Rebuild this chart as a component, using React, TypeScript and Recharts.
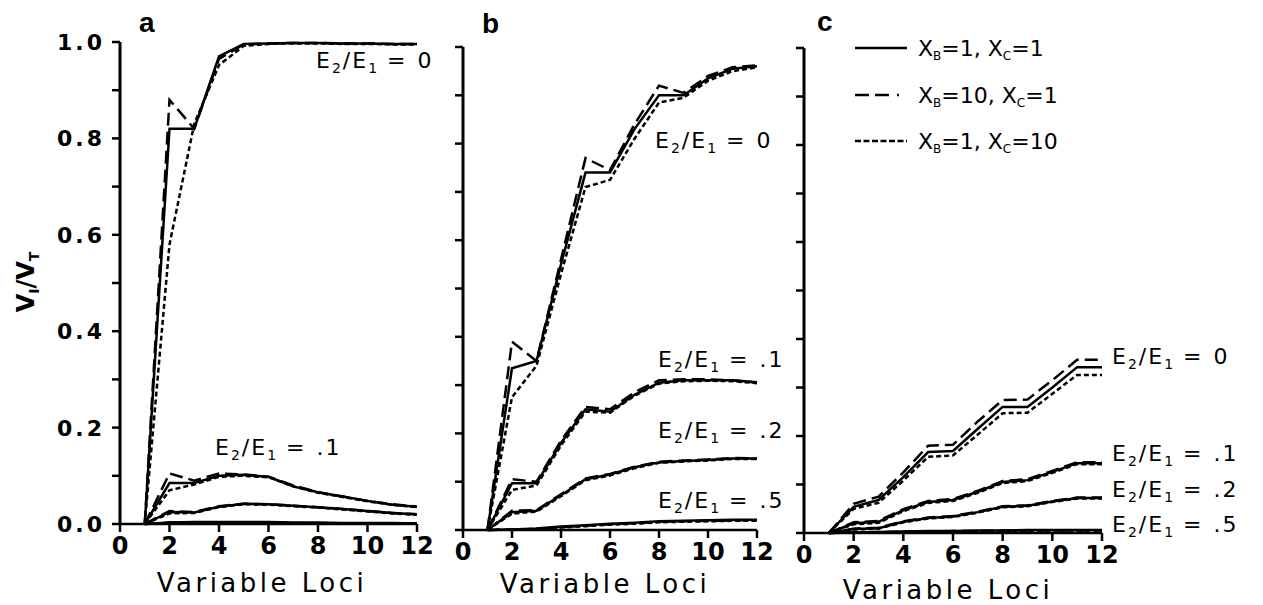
import React from 'react';
import { LineChart, Line, XAxis, YAxis } from 'recharts';

// ---------- data ----------
const loci = [1, 2, 3, 4, 5, 6, 7, 8, 9, 10, 11, 12];
const xTicks = [0, 2, 4, 6, 8, 10, 12];
const yTicks = [0, 0.1, 0.2, 0.3, 0.4, 0.5, 0.6, 0.7, 0.8, 0.9, 1.0];

// panel a
const aE0Solid = [0, 0.82, 0.82, 0.97, 0.996, 0.997, 0.998, 0.998, 0.997, 0.997, 0.996, 0.996];
const aE0Long = [0, 0.88, 0.82, 0.965, 0.995, 0.997, 0.998, 0.998, 0.997, 0.997, 0.996, 0.996];
const aE0Short = [0, 0.58, 0.83, 0.952, 0.992, 0.996, 0.997, 0.997, 0.996, 0.996, 0.995, 0.995];
const aE1Solid = [0, 0.085, 0.085, 0.1, 0.102, 0.098, 0.078, 0.066, 0.057, 0.048, 0.04, 0.036];
const aE1Long = [0, 0.105, 0.09, 0.105, 0.103, 0.098, 0.08, 0.066, 0.057, 0.048, 0.041, 0.036];
const aE1Short = [0, 0.07, 0.082, 0.098, 0.1, 0.097, 0.078, 0.065, 0.056, 0.047, 0.04, 0.035];
const aE2Solid = [0, 0.025, 0.024, 0.036, 0.042, 0.041, 0.038, 0.035, 0.031, 0.027, 0.023, 0.02];
const aE2Long = [0, 0.027, 0.025, 0.037, 0.042, 0.041, 0.038, 0.035, 0.031, 0.027, 0.023, 0.02];
const aE2Short = [0, 0.022, 0.023, 0.035, 0.041, 0.04, 0.037, 0.034, 0.03, 0.026, 0.022, 0.019];
const aE5Solid = [0, 0.003, 0.004, 0.004, 0.004, 0.004, 0.003, 0.003, 0.002, 0.002, 0.002, 0.001];
const aE5Long = [0, 0.003, 0.003, 0.003, 0.003, 0.002, 0.002, 0.001, 0.001, 0.001, 0.001, 0.001];
const aE5Short = [0, 0.002, 0.003, 0.003, 0.002, 0.002, 0.001, 0.001, 0.001, 0.001, 0.001, 0.001];

// panel b
const bE0Solid = [0, 0.335, 0.35, 0.55, 0.74, 0.74, 0.83, 0.9, 0.9, 0.935, 0.955, 0.96];
const bE0Long = [0, 0.39, 0.35, 0.56, 0.77, 0.745, 0.84, 0.92, 0.905, 0.94, 0.958, 0.962];
const bE0Short = [0, 0.275, 0.34, 0.53, 0.71, 0.725, 0.81, 0.885, 0.895, 0.93, 0.95, 0.958];
const bE1Solid = [0, 0.097, 0.097, 0.18, 0.25, 0.245, 0.28, 0.305, 0.31, 0.31, 0.31, 0.306];
const bE1Long = [0, 0.105, 0.1, 0.185, 0.255, 0.25, 0.285, 0.31, 0.312, 0.312, 0.31, 0.305];
const bE1Short = [0, 0.083, 0.092, 0.175, 0.245, 0.243, 0.278, 0.303, 0.308, 0.309, 0.308, 0.304];
const bE2Solid = [0, 0.037, 0.04, 0.072, 0.105, 0.115, 0.13, 0.14, 0.143, 0.145, 0.148, 0.148];
const bE2Long = [0, 0.04, 0.041, 0.074, 0.107, 0.116, 0.131, 0.141, 0.144, 0.146, 0.149, 0.148];
const bE2Short = [0, 0.034, 0.038, 0.07, 0.103, 0.113, 0.128, 0.139, 0.142, 0.144, 0.147, 0.147];
const bE5Solid = [0, 0.001, 0.003, 0.007, 0.01, 0.013, 0.015, 0.018, 0.019, 0.02, 0.021, 0.021];
const bE5Long = [0, 0.001, 0.002, 0.006, 0.009, 0.012, 0.014, 0.017, 0.018, 0.019, 0.02, 0.02];
const bE5Short = [0, 0.001, 0.002, 0.005, 0.008, 0.011, 0.013, 0.016, 0.017, 0.018, 0.019, 0.019];

// panel c
const cE0Solid = [0, 0.054, 0.068, 0.115, 0.167, 0.169, 0.215, 0.26, 0.26, 0.3, 0.342, 0.342];
const cE0Long = [0, 0.06, 0.075, 0.125, 0.18, 0.182, 0.23, 0.274, 0.275, 0.315, 0.357, 0.357];
const cE0Short = [0, 0.05, 0.062, 0.108, 0.157, 0.16, 0.203, 0.247, 0.248, 0.287, 0.326, 0.326];
const cE1Solid = [0, 0.02, 0.023, 0.047, 0.064, 0.068, 0.085, 0.105, 0.109, 0.126, 0.144, 0.144];
const cE1Long = [0, 0.022, 0.025, 0.049, 0.066, 0.07, 0.087, 0.107, 0.111, 0.128, 0.146, 0.146];
const cE1Short = [0, 0.018, 0.021, 0.045, 0.062, 0.066, 0.083, 0.103, 0.107, 0.124, 0.142, 0.142];
const cE2Solid = [0, 0.008, 0.01, 0.023, 0.031, 0.034, 0.043, 0.054, 0.056, 0.065, 0.072, 0.072];
const cE2Long = [0, 0.009, 0.011, 0.024, 0.032, 0.035, 0.044, 0.055, 0.057, 0.066, 0.073, 0.073];
const cE2Short = [0, 0.007, 0.009, 0.022, 0.03, 0.033, 0.042, 0.053, 0.055, 0.064, 0.071, 0.071];
const cE5Solid = [0, 0.001, 0.002, 0.003, 0.004, 0.004, 0.005, 0.005, 0.006, 0.006, 0.006, 0.006];
const cE5Long = [0, 0.001, 0.002, 0.003, 0.003, 0.004, 0.004, 0.005, 0.005, 0.005, 0.005, 0.005];
const cE5Short = [0, 0.001, 0.001, 0.002, 0.003, 0.003, 0.004, 0.004, 0.004, 0.005, 0.005, 0.005];

const legendLabels = [
  { b: '1', c: '1' },
  { b: '10', c: '1' },
  { b: '1', c: '10' },
];

// ---------- styling ----------
const W = 1263;
const H = 605;
const FONT = 'DejaVu Sans';
const DASH: Record<string, string | undefined> = { solid: undefined, long: '13 6', short: '5 3' };
const Y_AXIS_W = 60;
const X_AXIS_H = 36;

type Series = { key: string; values: number[]; style: 'solid' | 'long' | 'short' };

function makeSeries(groups: number[][][]): Series[] {
  const out: Series[] = [];
  groups.forEach((g, gi) => {
    out.push({ key: `g${gi}short`, values: g[2], style: 'short' });
    out.push({ key: `g${gi}long`, values: g[1], style: 'long' });
    out.push({ key: `g${gi}solid`, values: g[0], style: 'solid' });
  });
  return out;
}

const seriesA = makeSeries([
  [aE0Solid, aE0Long, aE0Short],
  [aE1Solid, aE1Long, aE1Short],
  [aE2Solid, aE2Long, aE2Short],
  [aE5Solid, aE5Long, aE5Short],
]);
const seriesB = makeSeries([
  [bE0Solid, bE0Long, bE0Short],
  [bE1Solid, bE1Long, bE1Short],
  [bE2Solid, bE2Long, bE2Short],
  [bE5Solid, bE5Long, bE5Short],
]);
const seriesC = makeSeries([
  [cE0Solid, cE0Long, cE0Short],
  [cE1Solid, cE1Long, cE1Short],
  [cE2Solid, cE2Long, cE2Short],
  [cE5Solid, cE5Long, cE5Short],
]);

function buildRows(series: Series[]) {
  return loci.map((x, i) => {
    const row: Record<string, number> = { x };
    series.forEach((s) => {
      row[s.key] = s.values[i];
    });
    return row;
  });
}

// y tick: short line to the left plus optional label
function YTick(props: any) {
  const { x, y, payload, showLabel } = props;
  const v = payload.value as number;
  const even = Math.round(v * 10) % 2 === 0;
  const ax = x + 15;
  return (
    <g>
      <line x1={ax - 8} x2={ax} y1={y} y2={y} stroke="#000" strokeWidth={2.5} />
      {showLabel && even ? (
        <text
          x={ax - 15}
          y={y + 8}
          textAnchor="end"
          fontFamily={FONT}
          fontWeight="bold"
          fontSize={22}
          letterSpacing={3}
          fill="#000"
        >
          {v.toFixed(1)}
        </text>
      ) : null}
    </g>
  );
}

type PanelProps = {
  series: Series[];
  left: number;
  right: number;
  top: number;
  bottom: number;
  showYLabels: boolean;
};

function Panel({ series, left, right, top, bottom, showYLabels }: PanelProps) {
  const rows = buildRows(series);
  return (
    <div style={{ position: 'absolute', left: 0, top: 0 }}>
      <LineChart
        width={W}
        height={H}
        data={rows}
        margin={{ top, right: W - right, bottom: H - bottom - X_AXIS_H, left: left - Y_AXIS_W }}
      >
        <XAxis
          dataKey="x"
          type="number"
          domain={[0, 12]}
          ticks={xTicks}
          interval={0}
          height={X_AXIS_H}
          stroke="#000"
          axisLine={{ stroke: '#000', strokeWidth: 2.5 }}
          tickLine={{ stroke: '#000', strokeWidth: 2.5 }}
          tickSize={8}
          tickMargin={5}
          tick={{ fill: '#000', fontSize: 24, fontFamily: FONT, fontWeight: 'bold' }}
        />
        <YAxis
          type="number"
          domain={[0, 1]}
          ticks={yTicks}
          interval={0}
          width={Y_AXIS_W}
          stroke="#000"
          axisLine={{ stroke: '#000', strokeWidth: 3 }}
          tickLine={false}
          tickSize={8}
          tickMargin={7}
          tick={<YTick showLabel={showYLabels} />}
        />
        {series.map((s) => (
          <Line
            key={s.key}
            type="linear"
            dataKey={s.key}
            stroke="#000"
            strokeWidth={2.5}
            strokeDasharray={DASH[s.style]}
            dot={false}
            activeDot={false}
            isAnimationActive={false}
          />
        ))}
      </LineChart>
    </div>
  );
}

function ELabel({ x, y, v }: { x: number; y: number; v: string }) {
  return (
    <text x={x} y={y} fontFamily={FONT} fontSize={22} fill="#000" letterSpacing={2}>
      E
      <tspan fontSize={14} dy={5}>2</tspan>
      <tspan dy={-5}>/E</tspan>
      <tspan fontSize={14} dy={5}>1</tspan>
      <tspan dy={-5} dx={8}>=</tspan>
      <tspan dx={10}>{v}</tspan>
    </text>
  );
}

function Overlay() {
  const legendY = [48, 95, 141];
  const xLabels = [
    { cx: 262, y: 592 },
    { cx: 605, y: 593 },
    { cx: 948, y: 599 },
  ];
  return (
    <svg
      width={W}
      height={H}
      style={{ position: 'absolute', left: 0, top: 0, pointerEvents: 'none' }}
    >
      {/* panel letters */}
      <text x={139} y={32} fontFamily="Liberation Sans" fontWeight="bold" fontSize={28} fill="#000">a</text>
      <text x={482} y={33} fontFamily="Liberation Sans" fontWeight="bold" fontSize={28} fill="#000">b</text>
      <text x={817} y={31} fontFamily="Liberation Sans" fontWeight="bold" fontSize={28} fill="#000">c</text>

      {/* y-axis label */}
      <text
        transform="translate(34,282) rotate(-90)"
        textAnchor="middle"
        fontFamily={FONT}
        fontWeight="bold"
        fontSize={24}
        fill="#000"
      >
        V<tspan fontSize={14} dy={5}>I</tspan>
        <tspan dy={-5}>/V</tspan>
        <tspan fontSize={14} dy={5}>T</tspan>
      </text>

      {/* x-axis labels */}
      {xLabels.map((l) => (
        <text
          key={l.cx}
          x={l.cx}
          y={l.y}
          textAnchor="middle"
          fontFamily={FONT}
          fontSize={26}
          letterSpacing={3.5}
          fill="#000"
        >
          Variable Loci
        </text>
      ))}

      {/* curve labels */}
      <ELabel x={316} y={68} v="0" />
      <ELabel x={215} y={455} v=".1" />
      <ELabel x={655} y={148} v="0" />
      <ELabel x={658} y={367} v=".1" />
      <ELabel x={658} y={438} v=".2" />
      <ELabel x={658} y={508} v=".5" />
      <ELabel x={1112} y={364} v="0" />
      <ELabel x={1112} y={461} v=".1" />
      <ELabel x={1112} y={497} v=".2" />
      <ELabel x={1112} y={532} v=".5" />

      {/* legend */}
      {(['solid', 'long', 'short'] as const).map((st, i) => (
        <g key={st}>
          <line
            x1={855}
            x2={907}
            y1={legendY[i]}
            y2={legendY[i]}
            stroke="#000"
            strokeWidth={2.5}
            strokeDasharray={st === 'long' ? '14 6 14 8 2' : st === 'short' ? '6 2.5' : undefined}
          />
          <text x={918} y={legendY[i] + 8} fontFamily={FONT} fontSize={22} fill="#000">
            X<tspan fontSize={12} dy={4}>B</tspan>
            <tspan dy={-4}>={legendLabels[i].b}, X</tspan>
            <tspan fontSize={12} dy={4}>C</tspan>
            <tspan dy={-4}>={legendLabels[i].c}</tspan>
          </text>
        </g>
      ))}
    </svg>
  );
}

export default function App() {
  return (
    <div style={{ position: 'absolute', left: 0, top: 0, width: W, height: H, background: '#fff' }}>
      <Panel series={seriesA} left={120} right={417} top={42} bottom={524} showYLabels />
      <Panel series={seriesB} left={463} right={757} top={47} bottom={530} showYLabels={false} />
      <Panel series={seriesC} left={804} right={1102} top={48} bottom={533} showYLabels={false} />
      <Overlay />
    </div>
  );
}
